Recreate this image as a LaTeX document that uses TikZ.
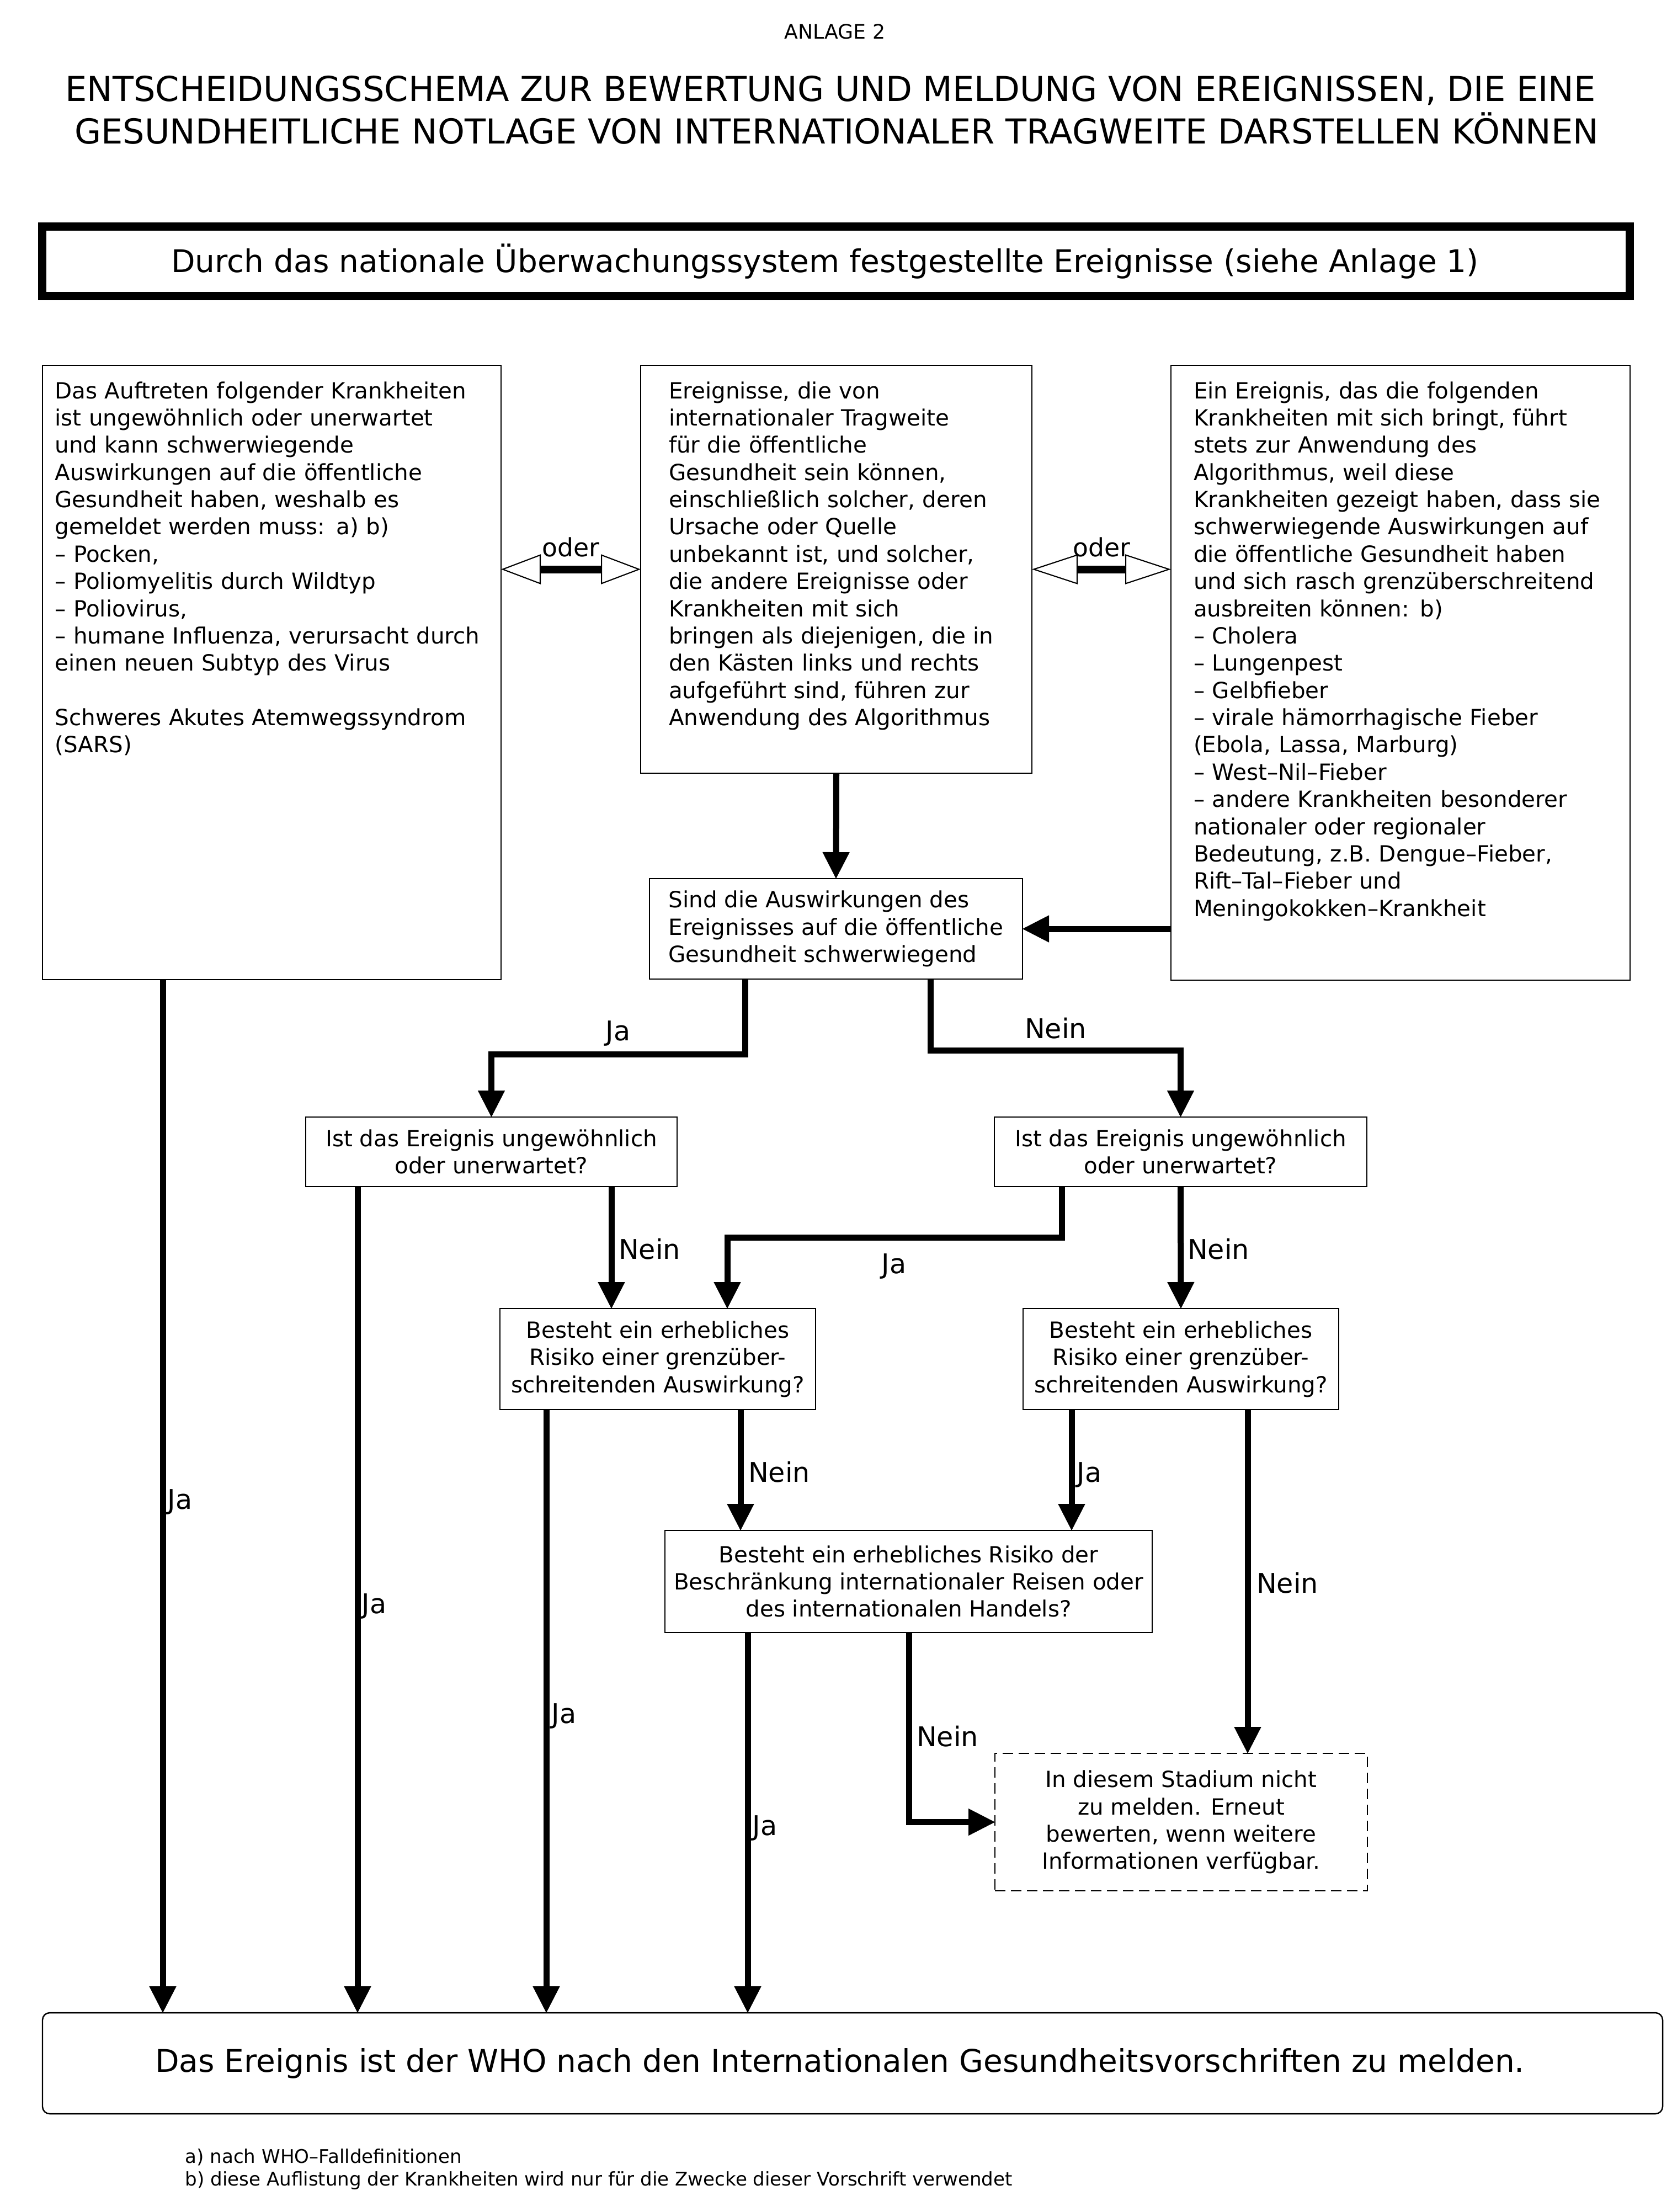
\documentclass[tikz,border=0pt]{standalone}
\usepackage{fontspec}
\setmainfont{DejaVu Sans}
\usetikzlibrary{arrows.meta}

\newcommand{\boxfont}{\fontsize{11.5}{14.05}\selectfont}
\newcommand{\answerfont}{\fontsize{14}{16}\selectfont}
\newcommand{\orfont}{\fontsize{13}{15}\selectfont}
\newcommand{\bigboxfont}{\fontsize{16.1}{19}\selectfont}
\newcommand{\titlefont}{\fontsize{17.7}{21.9}\selectfont}
\newcommand{\notefont}{\fontsize{9.7}{11.7}\selectfont}

\tikzset{
  flowtip/.tip={Triangle[length=4.8mm,width=4.9mm,line width=0.4pt]},
  ortip/.tip={Triangle[length=7.2mm,width=5.4mm,fill=white,line width=0.6pt]},
  ortipw/.tip={Triangle[length=8.3mm,width=5.4mm,fill=white,line width=0.6pt]},
}

\begin{document}
\begin{tikzpicture}[
  box/.style={draw, line width=0.8pt, outer sep=0pt, font=\boxfont},
  tallbox/.style={box, anchor=north west, align=left, inner xsep=#1, inner ysep=0.2cm, text height=0.4cm},
  askbox/.style={box, align=center, inner sep=0pt},
  flow/.style={line width=0.11cm, -flowtip},
  orline/.style={line width=0.14cm},
  answer/.style={font=\answerfont, anchor=base, inner sep=0pt},
  orlabel/.style={font=\orfont, anchor=base, inner sep=0pt, yshift=0.23cm},
  note/.style={font=\notefont, anchor=base west, inner sep=0pt},
]
\useasboundingbox (0,0) rectangle (30.30,-40.08);

% heading
\node[font=\fontsize{10.3}{12}\selectfont, anchor=base] (anlage) at (15.13,-0.70) {ANLAGE 2};
\node[font=\titlefont, anchor=base] (titleA) at (15.05,-1.83) {ENTSCHEIDUNGSSCHEMA ZUR BEWERTUNG UND MELDUNG VON EREIGNISSEN, DIE EINE};
\node[font=\titlefont, anchor=base] (titleB) at (15.16,-2.60) {GESUNDHEITLICHE NOTLAGE VON INTERNATIONALER TRAGWEITE DARSTELLEN KÖNNEN};

\node[draw, line width=0.15cm, outer sep=0pt, minimum width=28.77cm, minimum height=1.26cm, font=\bigboxfont] (source) at (15.15,-4.735)
  {\hspace*{-0.4cm}Durch das nationale Überwachungssystem festgestellte Ereignisse (siehe Anlage 1)};

% the three entry boxes
\node[tallbox=0.225cm, text width=7.86cm, text depth=10.33cm] (lbox) at (0.77,-6.62)
  {Das Auftreten folgender Krankheiten\\
   ist ungewöhnlich oder unerwartet\\
   und kann schwerwiegende\\
   Auswirkungen auf die öffentliche\\
   Gesundheit haben, weshalb es\\
   gemeldet werden muss: a) b)\\
   – Pocken,\\
   – Poliomyelitis durch Wildtyp\\
   – Poliovirus,\\
   – humane Influenza, verursacht durch\\
   einen neuen Subtyp des Virus\\[14.05pt]
   Schweres Akutes Atemwegssyndrom\\
   (SARS)};
\node[tallbox=0.51cm, text width=6.07cm, text depth=6.59cm] (mbox) at (11.61,-6.62)
  {Ereignisse, die von\\
   internationaler Tragweite\\
   für die öffentliche\\
   Gesundheit sein können,\\
   einschließlich solcher, deren\\
   Ursache oder Quelle\\
   unbekannt ist, und solcher,\\
   die andere Ereignisse oder\\
   Krankheiten mit sich\\
   bringen als diejenigen, die in\\
   den Kästen links und rechts\\
   aufgeführt sind, führen zur\\
   Anwendung des Algorithmus};
\node[tallbox=0.41cm, text width=7.50cm, text depth=10.34cm] (rbox) at (21.22,-6.62)
  {Ein Ereignis, das die folgenden\\
   Krankheiten mit sich bringt, führt\\
   stets zur Anwendung des\\
   Algorithmus, weil diese\\
   Krankheiten gezeigt haben, dass sie\\
   schwerwiegende Auswirkungen auf\\
   die öffentliche Gesundheit haben\\
   und sich rasch grenzüberschreitend\\
   ausbreiten können: b)\\
   – Cholera\\
   – Lungenpest\\
   – Gelbfieber\\
   – virale hämorrhagische Fieber\\
   (Ebola, Lassa, Marburg)\\
   – West–Nil–Fieber\\
   – andere Krankheiten besonderer\\
   nationaler oder regionaler\\
   Bedeutung, z.B. Dengue–Fieber,\\
   Rift–Tal–Fieber und\\
   Meningokokken–Krankheit};

% questions
\node[askbox, align=left, minimum width=6.76cm, minimum height=1.82cm] (q1) at (15.15,-16.83)
  {Sind die Auswirkungen des\\Ereignisses auf die öffentliche\\Gesundheit schwerwiegend};
\node[askbox, minimum width=6.73cm, minimum height=1.26cm] (q2l) at (8.905,-20.87)
  {Ist das Ereignis ungewöhnlich\\oder unerwartet?};
\node[askbox, minimum width=6.75cm, minimum height=1.26cm] (q2r) at (21.395,-20.87)
  {Ist das Ereignis ungewöhnlich\\oder unerwartet?};
\node[askbox, minimum width=5.72cm, minimum height=1.83cm] (q3l) at (11.92,-24.625)
  {Besteht ein erhebliches\\Risiko einer grenzüber-\\schreitenden Auswirkung?};
\node[askbox, minimum width=5.72cm, minimum height=1.83cm] (q3r) at (21.40,-24.625)
  {Besteht ein erhebliches\\Risiko einer grenzüber-\\schreitenden Auswirkung?};
\node[askbox, minimum width=8.83cm, minimum height=1.85cm] (q4) at (16.465,-28.655)
  {Besteht ein erhebliches Risiko der\\Beschränkung internationaler Reisen oder\\des internationalen Handels?};
\node[askbox, dash pattern=on 0.19cm off 0.1cm, minimum width=6.75cm, minimum height=2.49cm] (later) at (21.405,-33.015)
  {In diesem Stadium nicht\\zu melden. Erneut\\bewerten, wenn weitere\\Informationen verfügbar.};

\node[box, rounded corners=0.13cm, line width=0.7pt, minimum width=29.36cm, minimum height=1.83cm, font=\bigboxfont] (who) at (15.45,-37.385)
  {\hspace*{-0.46cm}Das Ereignis ist der WHO nach den Internationalen Gesundheitsvorschriften zu melden.};

% tracks of the connectors
\coordinate (tLja) at (2.95,0);
\coordinate (tQ1ja) at (13.50,-19.10);
\coordinate (tQ1nein) at (16.86,-19.03);
\coordinate (tQ2Lja) at (6.48,0);
\coordinate (tQ2Lnein) at (11.08,0);
\coordinate (tQ2Rja) at (19.24,-22.42);
\coordinate (tQ2Rjb) at (13.18,0);
\coordinate (tQ3Lja) at (9.90,0);
\coordinate (tQ3Lnein) at (13.42,0);
\coordinate (tQ3Rja) at (19.42,0);
\coordinate (tQ3Rnein) at (22.61,0);
\coordinate (tQ4ja) at (13.55,0);
\coordinate (tQ4nein) at (16.47,0);

% oder
\draw[orline, ortip-ortip] (lbox.east |- mbox.west) -- node[orlabel] (oderL) {oder} (mbox.west);
\draw[orline, ortipw-ortipw] (mbox.east) -- node[orlabel] (oderR) {oder} (rbox.west |- mbox.east);

% flow
\draw[flow] (mbox.south) -- (q1.north);
\draw[flow] (rbox.west |- q1.east) -- (q1.east);
\draw[flow] (lbox.south -| tLja) -- (who.north -| tLja);
\draw[flow] (q1.south -| tQ1ja) -- (tQ1ja) -| (q2l.north);
\draw[flow] (q1.south -| tQ1nein) -- (tQ1nein) -| (q2r.north);
\draw[flow] (q2l.south -| tQ2Lja) -- (who.north -| tQ2Lja);
\draw[flow] (q2l.south -| tQ2Lnein) -- (q3l.north -| tQ2Lnein);
\draw[flow] (q2r.south -| tQ2Rja) -- (tQ2Rja) -| (q3l.north -| tQ2Rjb);
\draw[flow] (q2r.south) -- (q3r.north);
\draw[flow] (q3l.south -| tQ3Lja) -- (who.north -| tQ3Lja);
\draw[flow] (q3l.south -| tQ3Lnein) -- (q4.north -| tQ3Lnein);
\draw[flow] (q3r.south -| tQ3Rja) -- (q4.north -| tQ3Rja);
\draw[flow] (q3r.south -| tQ3Rnein) -- (later.north -| tQ3Rnein);
\draw[flow] (q4.south -| tQ4ja) -- (who.north -| tQ4ja);
\draw[flow] (q4.south -| tQ4nein) |- (later.west);

% answers
\node[answer] (jaQ1) at (11.20,-18.85) {Ja};
\node[answer] (neinQ1) at (19.13,-18.81) {Nein};
\node[answer] (jaL) at (3.26,-27.34) {Ja};
\node[answer] (jaQ2L) at (6.78,-29.23) {Ja};
\node[answer] (neinQ2L) at (11.77,-22.81) {Nein};
\node[answer] (jaQ2R) at (16.20,-23.07) {Ja};
\node[answer] (neinQ2R) at (22.08,-22.81) {Nein};
\node[answer] (jaQ3L) at (10.22,-31.22) {Ja};
\node[answer] (neinQ3L) at (14.12,-26.85) {Nein};
\node[answer] (jaQ3R) at (19.74,-26.85) {Ja};
\node[answer] (neinQ3R) at (23.33,-28.86) {Nein};
\node[answer] (jaQ4) at (13.86,-33.25) {Ja};
\node[answer] (neinQ4) at (17.17,-31.64) {Nein};

% footnotes
\node[note] (noteA) at (3.35,-39.19) {a) nach WHO–Falldefinitionen};
\node[note] (noteB) at (3.35,-39.60) {b) diese Auflistung der Krankheiten wird nur für die Zwecke dieser Vorschrift verwendet};
\end{tikzpicture}
\end{document}
